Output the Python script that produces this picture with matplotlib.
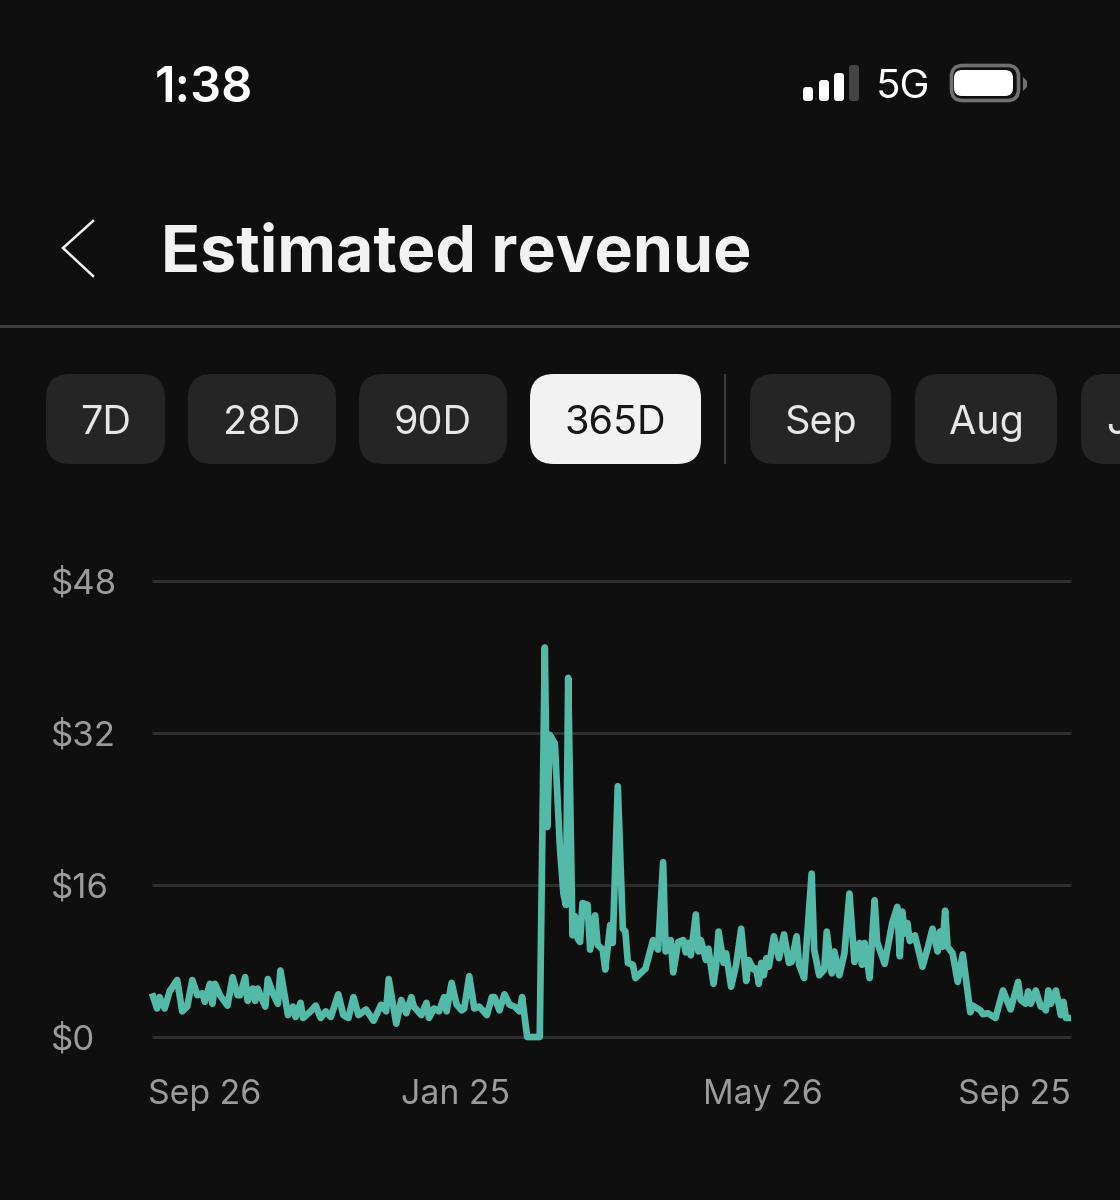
import matplotlib
matplotlib.use("Agg")
import matplotlib.pyplot as plt
from matplotlib.patches import FancyBboxPatch, Rectangle, Polygon

plt.rcParams["font.family"] = ["Inter", "DejaVu Sans"]

# 1. chart data (days since Sep 26, dollars)

days = [
    0, 2, 3, 5, 7, 10, 12, 14, 16, 18, 20, 21, 23, 24, 25, 27, 30, 32, 34, 35,
    37, 38, 40, 41, 42, 44, 45, 46, 48, 50, 51, 54, 56, 57, 59, 60, 63, 65, 67, 69,
    71, 74, 76, 78, 80, 82, 85, 88, 91, 93, 94, 97, 99, 101, 103, 104, 107, 109, 110, 112,
    114, 116, 117, 119, 121, 123, 124, 126, 128, 130, 133, 135, 136, 138, 140, 142, 144, 146, 147, 149,
    154, 156, 157, 158, 160, 162, 163.4, 164.4, 165.3, 167, 168, 169, 170, 171, 173, 174, 176, 177, 179, 180,
    182, 183, 185, 187, 188, 189, 191, 192, 196, 199, 201, 203, 204, 206, 207, 209, 211, 212, 213, 214,
    216, 217, 218, 220, 221, 223, 224, 225, 227, 228, 230, 232, 234, 236, 237, 239, 240, 241, 242, 243,
    244, 245, 247, 249, 251, 253, 254, 256, 257, 259, 262, 263, 265, 267, 268, 270, 271, 273, 275, 277,
    279, 281, 282, 283, 285, 287, 288, 291, 294, 296, 297, 298, 299, 300, 301, 303, 306, 308, 310, 312,
    313, 314, 315, 316, 318, 320, 322, 325, 326, 329, 330, 332, 335, 338, 341, 344, 345, 347, 348, 349,
    351, 353, 354, 355, 356, 357, 359, 361, 362, 363, 365,
]
revenue = [
    4.6, 3.0, 4.2, 3.0, 4.8, 6.0, 2.7, 3.2, 6.0, 4.4, 4.6, 3.7, 5.6, 3.5, 5.6, 4.4, 3.3, 6.3, 4.4, 4.4,
    6.3, 3.8, 5.1, 3.8, 5.1, 3.8, 3.2, 6.1, 4.6, 3.5, 7.0, 2.3, 3.2, 2.1, 3.6, 2.0, 2.7, 3.3, 2.0, 2.7,
    2.1, 4.5, 2.3, 2.0, 4.2, 2.3, 2.9, 1.7, 3.4, 2.7, 6.1, 1.4, 3.9, 2.5, 4.2, 3.2, 2.3, 3.6, 2.0, 3.0,
    2.7, 4.2, 2.7, 5.7, 3.4, 2.8, 3.0, 6.4, 3.0, 3.2, 2.3, 4.2, 4.2, 2.8, 4.5, 3.4, 3.2, 2.7, 4.2, 0.0,
    0.0, 41.0, 22.1, 31.8, 30.9, 20.0, 15.1, 13.9, 37.8, 10.7, 12.7, 10.4, 10.0, 14.1, 13.9, 9.2, 12.8, 9.7, 9.2, 7.1,
    11.8, 9.9, 26.4, 11.4, 11.1, 7.8, 7.6, 6.2, 7.2, 10.2, 9.2, 18.4, 9.0, 10.2, 6.8, 10.0, 10.2, 8.9, 9.9, 8.6,
    12.9, 9.0, 10.2, 8.1, 9.3, 5.6, 7.4, 11.1, 7.8, 8.8, 5.3, 7.6, 11.4, 5.9, 8.1, 7.1, 7.2, 5.6, 7.8, 6.5,
    8.3, 7.4, 10.6, 8.3, 10.8, 7.8, 7.9, 10.6, 7.6, 6.2, 17.2, 9.2, 6.5, 7.1, 11.1, 6.7, 9.0, 6.5, 8.8, 15.1,
    7.9, 9.9, 7.6, 9.9, 6.2, 14.4, 10.0, 7.7, 12.0, 13.7, 8.5, 13.2, 10.9, 12.0, 10.1, 10.7, 7.4, 9.3, 11.4, 9.0,
    11.1, 9.5, 13.3, 9.5, 8.8, 5.8, 8.7, 2.6, 3.3, 2.8, 2.4, 2.5, 2.0, 4.9, 2.9, 5.8, 3.9, 3.5, 4.8, 3.5,
    4.9, 3.2, 3.2, 2.8, 4.9, 3.5, 4.9, 2.3, 3.7, 2.0, 2.0,
]

y_ticks = [0, 16, 32, 48]
y_labels = ["$0", "$16", "$32", "$48"]
x_ticks = [0, 121, 242, 364]
x_labels = ["Sep 26", "Jan 25", "May 26", "Sep 25"]
x_aligns = ["left", "center", "center", "right"]
x_nudge = [-4, -1, 2, 2]

pills = ["7D", "28D", "90D", "365D", "Sep", "Aug", "J"]
pill_left = [46, 188, 359, 530, 750, 915, 1081]
pill_right = [165, 336, 507, 701, 891, 1057, 1170]

# 2. colors

bg = "#0f0f10"
line_color = "#54b9a8"
grid_color = "#2d2d2d"
tick_color = "#9b9b9b"
pill_color = "#252525"
white = "#f2f2f2"

W, H = 1120, 1200
fig = plt.figure(figsize=(W / 100, H / 100), dpi=100, facecolor=bg)

# 3. phone screen around the chart, in pixel coordinates

ui = fig.add_axes([0, 0, 1, 1])
ui.set_xlim(0, W)
ui.set_ylim(H, 0)
ui.axis("off")

ui.text(204, 88.5, "1:38", color="white", fontsize=35, fontweight="semibold", ha="center", va="center")

for x0, top, col in [(803, 87, "white"), (819, 80, "white"), (834, 73, "white"), (849, 65, "#444444")]:
    ui.add_patch(FancyBboxPatch((x0 + 2, top + 2), 6, 97 - top, boxstyle="round,pad=2,rounding_size=3",
                                fc=col, ec="none"))
ui.text(903, 88, "5G", color="white", fontsize=29, ha="center", va="center")
ui.add_patch(FancyBboxPatch((951.5, 65.5), 67, 35, boxstyle="round,pad=0,rounding_size=11",
                            fc="none", ec="#707070", lw=2.6))
ui.add_patch(FancyBboxPatch((954, 70), 59, 26, boxstyle="round,pad=0,rounding_size=8",
                            fc="white", ec="none"))
ui.add_patch(Polygon([[1023, 77], [1027, 81], [1027, 87], [1023, 91]], closed=True, fc="#707070", ec="none"))

ui.plot([93, 63, 93], [221, 248, 276], color=white, lw=1.8, solid_joinstyle="miter")
ui.text(161, 254, "Estimated revenue", color=white, fontsize=46.4, fontweight="bold", ha="left", va="center")
ui.add_patch(Rectangle((0, 325), W, 2.5, fc="#3c3c3c", ec="none"))

for name, left, right in zip(pills, pill_left, pill_right):
    active = name == "365D"
    ui.add_patch(FancyBboxPatch((left, 374), right - left, 90, boxstyle="round,pad=0,rounding_size=24",
                                fc=white if active else pill_color, ec="none"))
    ui.text((left + right) / 2 if name != "J" else 1117, 423, name, color="#161616" if active else "#e6e6e6",
            fontsize=28.5, ha="center", va="center")
ui.add_patch(Rectangle((724, 374), 2, 90, fc="#3a3a3a", ec="none"))

# 4. the chart

ax = fig.add_axes([152 / W, 1 - 1037 / H, 919 / W, 456 / H], facecolor="none")
ax.plot(days, revenue, color=line_color, lw=4.8, solid_joinstyle="round", solid_capstyle="butt",
        clip_on=False, zorder=3)
ax.set_xlim(0, 365)
ax.set_ylim(0, 48)

ax.set_yticks(y_ticks)
ax.set_yticklabels(y_labels, color=tick_color, fontsize=25, ha="left")
ax.set_xticks(x_ticks)
ax.set_xticklabels([])
ax.tick_params(axis="y", length=0, pad=73)
ax.tick_params(axis="x", length=0)

# x labels hang off their ticks, first and last ones aligned to the edges
for tick, name, align, nudge in zip(x_ticks, x_labels, x_aligns, x_nudge):
    ax.annotate(name, xy=(tick, 0), xycoords=("data", "axes fraction"), xytext=(nudge, -58),
                textcoords="offset pixels", color=tick_color, fontsize=24.4, ha=align, va="center")

ax.grid(True, axis="y", color=grid_color, lw=2.2)
for gl in ax.get_ygridlines():
    gl.set_clip_on(False)
    gl.set_solid_capstyle("butt")
ax.set_axisbelow(True)
for side in ax.spines:
    ax.spines[side].set_visible(False)

fig.savefig("out.png", dpi=100, facecolor=bg)
